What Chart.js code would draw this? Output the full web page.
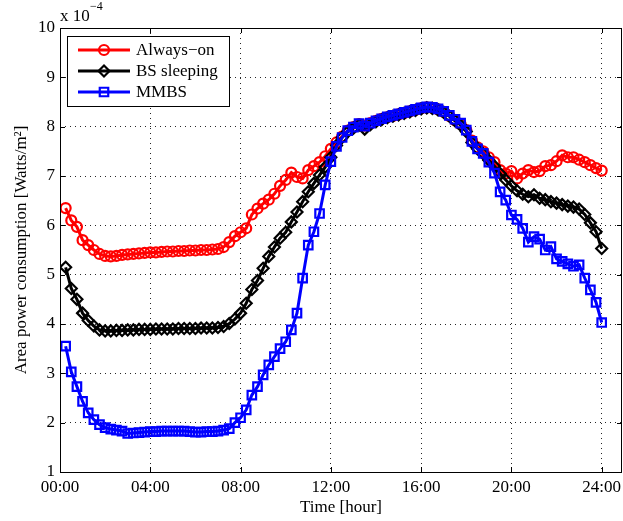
<!DOCTYPE html>
<html>
<head>
<meta charset="utf-8">
<script src="https://cdn.jsdelivr.net/npm/chart.js@4.4.0/dist/chart.umd.min.js"></script>
<style>
  html, body { margin: 0; padding: 0; background: #fff; }
</style>
</head>
<body>
<canvas id="chart" width="623" height="521"></canvas>
<script>
// Temps (heures) : un échantillon tous les quarts d'heure
const hours = [
  0.25, 0.5, 0.75, 1, 1.25, 1.5, 1.75, 2, 2.25, 2.5, 2.75, 3,
  3.25, 3.5, 3.75, 4, 4.25, 4.5, 4.75, 5, 5.25, 5.5, 5.75, 6,
  6.25, 6.5, 6.75, 7, 7.25, 7.5, 7.75, 8, 8.25, 8.5, 8.75, 9,
  9.25, 9.5, 9.75, 10, 10.25, 10.5, 10.75, 11, 11.25, 11.5, 11.75, 12,
  12.25, 12.5, 12.75, 13, 13.25, 13.5, 13.75, 14, 14.25, 14.5, 14.75, 15,
  15.25, 15.5, 15.75, 16, 16.25, 16.5, 16.75, 17, 17.25, 17.5, 17.75, 18,
  18.25, 18.5, 18.75, 19, 19.25, 19.5, 19.75, 20, 20.25, 20.5, 20.75, 21,
  21.25, 21.5, 21.75, 22, 22.25, 22.5, 22.75, 23, 23.25, 23.5, 23.75, 24
];

// Consommation (x 10^-4 W/m2)
const alwaysOn = [
  6.35, 6.10, 5.97, 5.70, 5.60, 5.50, 5.42, 5.38, 5.37, 5.38, 5.40, 5.41,
  5.42, 5.43, 5.44, 5.45, 5.45, 5.46, 5.47, 5.47, 5.48, 5.48, 5.49, 5.49,
  5.50, 5.50, 5.51, 5.52, 5.56, 5.66, 5.78, 5.86, 5.94, 6.22, 6.34, 6.44,
  6.52, 6.64, 6.80, 6.92, 7.07, 6.98, 6.95, 7.12, 7.20, 7.28, 7.40, 7.55,
  7.68, 7.80, 7.92, 7.99, 8.05, 8.02, 8.07, 8.12, 8.16, 8.19, 8.22, 8.25,
  8.28, 8.31, 8.34, 8.37, 8.39, 8.38, 8.35, 8.30, 8.22, 8.13, 8.05, 7.93,
  7.72, 7.58, 7.50, 7.38, 7.28, 7.12, 7.05, 7.10, 6.95, 7.05, 7.12, 7.08,
  7.10, 7.20, 7.22, 7.30, 7.42, 7.38, 7.38, 7.33, 7.28, 7.22, 7.16, 7.11
];

const bsSleeping = [
  5.15, 4.72, 4.50, 4.22, 4.07, 3.96, 3.88, 3.86, 3.86, 3.87, 3.87, 3.88,
  3.88, 3.89, 3.89, 3.89, 3.90, 3.90, 3.90, 3.90, 3.91, 3.91, 3.91, 3.91,
  3.92, 3.92, 3.92, 3.93, 3.95, 4.01, 4.10, 4.22, 4.42, 4.70, 4.88, 5.13,
  5.37, 5.56, 5.74, 5.86, 6.07, 6.27, 6.48, 6.68, 6.85, 7.02, 7.18, 7.38,
  7.62, 7.78, 7.90, 7.97, 8.03, 7.95, 8.04, 8.10, 8.14, 8.18, 8.21, 8.24,
  8.27, 8.30, 8.33, 8.36, 8.38, 8.37, 8.34, 8.29, 8.21, 8.12, 8.03, 7.90,
  7.68, 7.55, 7.45, 7.32, 7.20, 7.05, 6.92, 6.80, 6.70, 6.63, 6.58, 6.62,
  6.55, 6.52, 6.48, 6.45, 6.42, 6.39, 6.37, 6.33, 6.22, 6.05, 5.87, 5.53
];

const mmbs = [
  3.55, 3.03, 2.73, 2.43, 2.20, 2.06, 1.96, 1.90, 1.87, 1.85, 1.83, 1.78,
  1.79, 1.80, 1.81, 1.82, 1.82, 1.83, 1.83, 1.83, 1.83, 1.83, 1.82, 1.81,
  1.81, 1.82, 1.82, 1.83, 1.85, 1.88, 2.00, 2.10, 2.26, 2.56, 2.73, 2.97,
  3.17, 3.34, 3.50, 3.64, 3.88, 4.22, 4.93, 5.60, 5.87, 6.24, 6.82, 7.29,
  7.60, 7.78, 7.92, 7.99, 8.06, 8.01, 8.07, 8.12, 8.16, 8.20, 8.23, 8.26,
  8.29, 8.32, 8.35, 8.38, 8.40, 8.39, 8.36, 8.31, 8.23, 8.15, 8.07, 7.93,
  7.70, 7.55, 7.46, 7.28, 7.06, 6.68, 6.51, 6.21, 6.12, 5.94, 5.66, 5.77,
  5.72, 5.50, 5.57, 5.32, 5.27, 5.22, 5.17, 5.20, 4.93, 4.69, 4.44, 4.03
];

const xTicks = [0, 4, 8, 12, 16, 20, 24];
const xTickLabels = ["00:00", "04:00", "08:00", "12:00", "16:00", "20:00", "24:00"];
const seriesNames = ["Always\u2212on", "BS sleeping", "MMBS"];

const serif = "'Liberation Serif', 'Times New Roman', serif";
const font17 = { family: serif, size: 17 };

function toPoints(values) {
    return values.map((v, i) => ({ x: hours[i], y: v }));
}

// Cadre, petites graduations, légende et exposant façon MATLAB
const decorPlugin = {
    id: "decor",
    afterDatasetsDraw(chart) {
        const ctx = chart.ctx;
        const a = chart.chartArea;
        const xs = chart.scales.x, ys = chart.scales.y;
        ctx.save();
        ctx.strokeStyle = "#000";
        ctx.lineWidth = 1;
        ctx.strokeRect(Math.round(a.left) + 0.5, Math.round(a.top) + 0.5,
            Math.round(a.right - a.left) - 1, Math.round(a.bottom - a.top));

        ctx.beginPath();
        xTicks.forEach(v => {
            const px = Math.round(xs.getPixelForValue(v)) + 0.5;
            ctx.moveTo(px, a.bottom); ctx.lineTo(px, a.bottom - 5);
            ctx.moveTo(px, a.top); ctx.lineTo(px, a.top + 5);
        });
        ys.ticks.forEach(t => {
            const py = Math.round(ys.getPixelForValue(t.value)) + 0.5;
            ctx.moveTo(a.left, py); ctx.lineTo(a.left + 5, py);
            ctx.moveTo(a.right, py); ctx.lineTo(a.right - 5, py);
        });
        ctx.stroke();

        // légende
        const bx = 67, by = 36, bw = 162, bh = 70;
        ctx.fillStyle = "#fff";
        ctx.fillRect(bx, by, bw, bh);
        ctx.strokeRect(bx + 0.5, by + 0.5, bw, bh);
        const rows = [50, 71, 92];
        chart.data.datasets.slice().sort((p, q) => p.legendRank - q.legendRank).forEach((ds, i) => {
            const y = rows[i];
            ctx.strokeStyle = ds.borderColor;
            ctx.lineWidth = 3;
            ctx.beginPath();
            ctx.moveTo(78, y); ctx.lineTo(130, y);
            ctx.stroke();
            ctx.lineWidth = ds.pointBorderWidth;
            ctx.fillStyle = "rgba(0,0,0,0)";
            Chart.helpers.drawPoint(ctx, { pointStyle: ds.pointStyle, radius: ds.pointRadius, rotation: 0, borderWidth: ds.pointBorderWidth }, 104, y);
            ctx.fillStyle = "#000";
            ctx.font = "17px " + serif;
            ctx.textBaseline = "middle";
            ctx.fillText(ds.label, 136, y + 1);
        });

        // exposant
        ctx.fillStyle = "#000";
        ctx.textBaseline = "alphabetic";
        ctx.font = "17px " + serif;
        ctx.fillText("x 10", 60, 21);
        ctx.font = "12px " + serif;
        ctx.fillText("\u22124", 90, 10);
        ctx.restore();
    }
};

new Chart(document.getElementById("chart"), {
    type: "line",
    data: {
        datasets: [
            {
                label: seriesNames[0], data: toPoints(alwaysOn), legendRank: 0, order: 3,
                borderColor: "#ff0000", borderWidth: 3, pointStyle: "circle", pointRadius: 5,
                pointBorderWidth: 2.2, pointBackgroundColor: "rgba(0,0,0,0)", pointBorderColor: "#ff0000"
            },
            {
                label: seriesNames[1], data: toPoints(bsSleeping), legendRank: 1, order: 2,
                borderColor: "#000000", borderWidth: 3, pointStyle: "rectRot", pointRadius: 5.5,
                pointBorderWidth: 2.2, pointBackgroundColor: "rgba(0,0,0,0)", pointBorderColor: "#000000"
            },
            {
                label: seriesNames[2], data: toPoints(mmbs), legendRank: 2, order: 1,
                borderColor: "#0000ff", borderWidth: 3, pointStyle: "rect", pointRadius: 6,
                pointBorderWidth: 2.2, pointBackgroundColor: "rgba(0,0,0,0)", pointBorderColor: "#0000ff"
            }
        ]
    },
    options: {
        responsive: false,
        animation: false,
        events: [],
        layout: { autoPadding: false, padding: { left: 0, right: 1, top: 28, bottom: 0 } },
        elements: { line: { tension: 0 } },
        plugins: { legend: { display: false }, tooltip: { enabled: false } },
        scales: {
            x: {
                type: "linear", min: 0, max: 24.9,
                afterBuildTicks: s => { s.ticks = xTicks.map(v => ({ value: v })); },
                afterFit: s => { s.height = 49; s.paddingLeft = 0; s.paddingRight = 0; },
                ticks: {
                    callback: v => xTickLabels[xTicks.indexOf(v)],
                    font: font17, color: "#000", padding: 0, maxRotation: 0, autoSkip: false
                },
                grid: { color: "rgba(0,0,0,0.85)", lineWidth: 1, drawTicks: true, tickLength: 5, tickColor: "rgba(0,0,0,0)" },
                border: { display: false, dash: [1, 4] },
                title: { display: true, text: "Time [hour]", font: font17, color: "#000", padding: { top: 0, bottom: 3 } }
            },
            y: {
                min: 1, max: 10,
                afterFit: s => { s.width = 60; s.paddingTop = 0; s.paddingBottom = 0; },
                ticks: { stepSize: 1, font: font17, color: "#000", padding: 0 },
                grid: { color: "rgba(0,0,0,0.85)", lineWidth: 1, drawTicks: true, tickLength: 5, tickColor: "rgba(0,0,0,0)" },
                border: { display: false, dash: [1, 4] },
                title: { display: true, text: "Area power consumption [Watts/m\u00b2]", font: font17, color: "#000", padding: { top: 11, bottom: 0 } }
            }
        }
    },
    plugins: [decorPlugin]
});
</script>
</body>
</html>
